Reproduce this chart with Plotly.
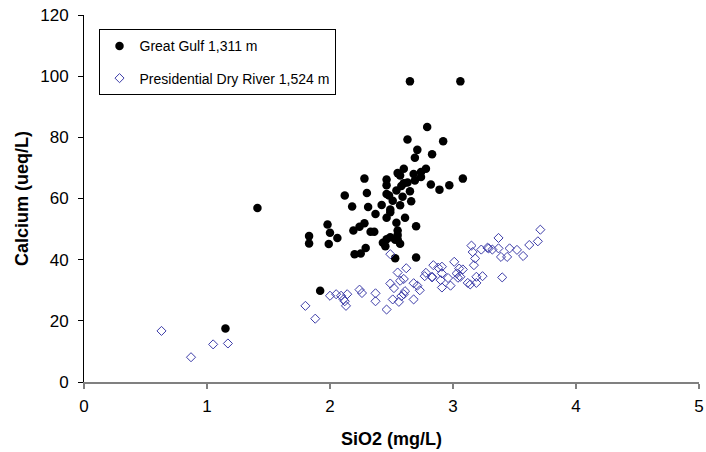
import plotly.graph_objects as go

# Great Gulf 1,311 m
gg_sio2 = [1.15, 1.41, 1.92, 2.65, 3.06, 2.79, 2.63, 2.92, 2.71, 2.83, 2.69, 2.60, 2.78, 2.55,
           2.57, 2.68, 2.74, 2.74, 2.69, 2.63, 2.28, 2.46, 2.46, 3.08, 2.82, 2.97, 2.89, 2.58,
           2.60, 2.54, 2.65, 2.30, 2.12, 2.46, 2.48, 2.59, 2.66, 2.51, 2.42, 2.18, 2.31, 2.57,
           2.49, 2.37, 2.49, 2.46, 2.61, 1.98, 2.28, 2.54, 2.24, 2.00, 2.19, 2.70, 2.36, 2.33,
           2.55, 2.55, 2.06, 1.83, 2.49, 2.46, 2.55, 2.53, 1.83, 1.99, 2.43, 2.45, 2.57, 2.29,
           2.20, 2.25, 2.53, 2.70]
gg_ca = [17.5, 56.9, 29.8, 98.3, 98.3, 83.4, 79.3, 78.7, 75.9, 74.5, 73.3, 69.7, 69.7, 68.3,
         67.5, 68.0, 68.7, 67.0, 65.9, 65.2, 66.5, 66.2, 64.3, 66.5, 64.6, 64.3, 62.9, 64.1,
         65.0, 62.6, 62.4, 61.8, 61.0, 61.5, 61.0, 60.6, 59.1, 59.3, 57.9, 57.4, 57.2, 57.8,
         56.4, 54.9, 55.5, 53.7, 53.7, 51.5, 51.9, 52.1, 50.8, 48.8, 49.5, 50.9, 49.1, 49.1,
         49.5, 48.1, 47.1, 47.7, 47.3, 46.7, 46.7, 46.5, 45.3, 45.1, 45.5, 44.4, 45.2, 43.8,
         41.8, 42.0, 40.5, 40.7]

# Presidential Dry River 1,524 m
pdr_sio2 = [0.63, 0.87, 1.05, 1.17, 1.80, 1.88, 2.00, 2.05, 2.09, 2.11, 2.12, 2.13, 2.14, 2.24,
            2.26, 2.37, 2.37, 2.46, 2.49, 2.49, 2.52, 2.51, 2.55, 2.56, 2.58, 2.60, 2.57, 2.60,
            2.62, 2.61, 2.68, 2.71, 2.73, 2.68, 2.78, 2.77, 2.83, 2.84, 2.83, 2.88, 2.91, 2.90,
            2.91, 2.91, 2.96, 2.98, 3.01, 3.03, 3.04, 3.05, 3.08, 3.06, 3.12, 3.14, 3.15, 3.16,
            3.18, 3.17, 3.19, 3.19, 3.24, 3.23, 3.28, 3.29, 3.32, 3.37, 3.37, 3.39, 3.40, 3.44,
            3.46, 3.52, 3.57, 3.62, 3.69, 3.71]
pdr_ca = [16.7, 8.1, 12.3, 12.6, 24.9, 20.7, 28.2, 28.7, 28.2, 27.0, 26.4, 24.9, 28.7, 30.2,
          29.1, 29.0, 26.4, 23.7, 41.8, 32.2, 30.7, 27.0, 35.8, 26.2, 28.1, 28.7, 33.1, 33.7,
          37.2, 29.7, 32.3, 31.5, 30.0, 27.0, 35.7, 34.6, 34.2, 38.2, 34.4, 37.4, 37.7, 33.3,
          30.9, 35.5, 34.0, 31.5, 39.3, 35.5, 34.1, 37.1, 36.8, 34.4, 32.4, 31.9, 44.6, 42.5,
          40.4, 38.2, 34.4, 32.4, 34.6, 43.3, 43.9, 43.7, 43.3, 43.7, 47.1, 40.9, 34.2, 40.9,
          43.7, 43.2, 41.2, 44.8, 46.0, 49.8]

x_ticks = [0, 1, 2, 3, 4, 5]
y_ticks = [0, 20, 40, 60, 80, 100, 120]

fig = go.Figure()
fig.add_trace(go.Scatter(
    x=gg_sio2, y=gg_ca, mode="markers", name="Great Gulf 1,311 m",
    legendgroup="a",
    marker=dict(symbol="circle", size=8.5, color="black", line=dict(width=0)),
))
fig.add_trace(go.Scatter(
    x=pdr_sio2, y=pdr_ca, mode="markers", name="Presidential Dry River 1,524 m",
    legendgroup="b",
    marker=dict(symbol="diamond-open", size=7, color="#3C3CA8", line=dict(width=1, color="#3C3CA8")),
))

fig.update_layout(
    width=706, height=452,
    margin=dict(l=84, r=7, t=15, b=70, autoexpand=False),
    plot_bgcolor="white", paper_bgcolor="white",
    font=dict(family="Liberation Sans, Arial, sans-serif", color="black", size=16),
    showlegend=True,
    legend=dict(
        x=0.0236, y=0.961, xanchor="left", yanchor="top",
        bordercolor="black", borderwidth=1, bgcolor="white",
        font=dict(size=14, color="black"),
        traceorder="grouped", tracegroupgap=11,
        entrywidth=215, entrywidthmode="pixels",
    ),
    xaxis=dict(
        range=[0, 5], tickvals=x_ticks, showgrid=False, zeroline=False,
        showline=True, linecolor="#808080", linewidth=1.5,
        ticks="outside", ticklen=5, tickcolor="#808080", tickwidth=1.5,
        tickfont=dict(size=17), ticklabelstandoff=3, automargin=False,
        title=dict(text="<b>SiO2 (mg/L)</b>", font=dict(size=18), standoff=17),
    ),
    yaxis=dict(
        range=[0, 120], tickvals=y_ticks, showgrid=False, zeroline=False,
        showline=True, linecolor="black", linewidth=1,
        ticks="outside", ticklen=5, tickcolor="black",
        tickfont=dict(size=17), ticklabelstandoff=6, automargin=False,
        title=dict(text="<b>Calcium (ueq/L)</b>", font=dict(size=18), standoff=6),
    ),
)

fig.write_html("out.html")
